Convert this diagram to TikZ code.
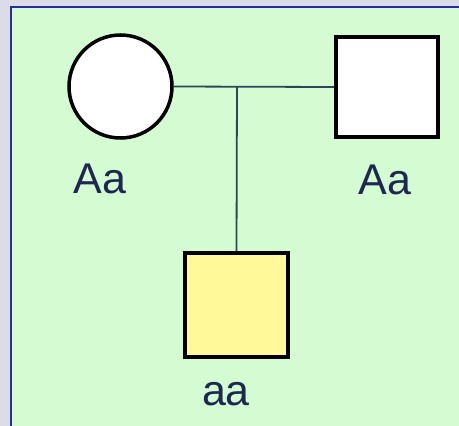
\documentclass[tikz,border=0pt]{standalone}
\usepackage{fontspec}
\setmainfont{Liberation Sans}
\begin{document}
\definecolor{pagegrey}{HTML}{DCDCE6}
\definecolor{panelgreen}{HTML}{D5FBD3}
\definecolor{frameblue}{HTML}{2B2BA0}
\definecolor{linkslate}{HTML}{2A4858}
\definecolor{labelnavy}{HTML}{1C2850}
\definecolor{affected}{HTML}{FFF99A}
\begin{tikzpicture}[x=1pt,y=-1pt,
  person/.style={draw=black,line width=3.5pt,fill=white,inner sep=0pt},
  female/.style={person,circle,minimum size=103pt},
  male/.style={person,rectangle,minimum width=102pt,minimum height=100pt},
  link/.style={draw=linkslate,line width=1.8pt},
  genotype/.style={text=labelnavy,font=\fontsize{43}{48}\selectfont,anchor=base,inner sep=0pt}]
  % page and panel
  \useasboundingbox (0,0) rectangle (459,426);
  \fill[pagegrey] (0,0) rectangle (459,426);
  \fill[panelgreen] (11,7) rectangle (459,426);
  \draw[frameblue,line width=2pt] (11,426) -- (11,7) -- (459,7);
  % parents
  \node[female] (mother) at (120.5,86.5) {};
  \node[male] (father) at (387,87) {};
  % child
  \node[male,fill=affected,minimum width=103pt,minimum height=104pt] (child) at (236.5,305) {};
  % mating line and descent line
  \coordinate (sibship) at (237,87);
  \draw[link] (mother.east) -- (father.west);
  \draw[link] (sibship) -- (child.north);
  % genotypes
  \node[genotype] (gmother) at (100,193) {Aa};
  \node[genotype] (gfather) at (385,194) {Aa};
  \node[genotype] (gchild) at (226,405) {aa};
\end{tikzpicture}
\end{document}
